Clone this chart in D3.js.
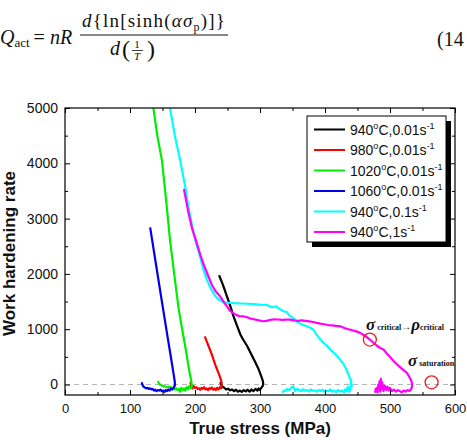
<!DOCTYPE html>
<html>
<head>
<meta charset="utf-8">
<script src="https://cdn.jsdelivr.net/npm/d3@7"></script>
<style>
    body { margin: 0; background: #fff; }
    svg { display: block; }
</style>
</head>
<body>
<svg id="chart" width="467" height="440"></svg>
<script>
    // legend labels and line colours, same order as the series below
    const seriesLabels = [
        ["940", "0.01"], ["980", "0.01"], ["1020", "0.01"],
        ["1060", "0.01"], ["940", "0.1"], ["940", "1"]
    ];
    const seriesColors = ["#000000", "#ff0000", "#00ee00", "#0000ee", "#00ffff", "#ff00ff"];

    // [true stress (MPa), work hardening rate]
    const black940 = [[237,1975],[243,1800],[249,1600],[254,1430],[259,1240],[265,1050],[270,900],[274,813],
        [280,700],[286,560],[292,420],[297,300],[301,180],[304,80],[305,20],[304,-30],[302,-60],[300,-100],
        [298,-70],[296,-110],[293,-80],[290,-120],[287,-90],[284,-130],[281,-95],[278,-125],[275,-100],
        [272,-135],[269,-110],[266,-130],[263,-95],[260,-120],[257,-90],[254,-105],[251,-75],[248,-90],
        [245,-60],[242,-40],[240,0],[239,45]];
    const red980 = [[215,870],[218,780],[222,660],[226,540],[229,430],[232,330],[235,240],[238,150],[240,80],
        [241,30],[241,-20],[240,-70],[238,-50],[236,-90],[234,-60],[232,-100],[230,-70],[228,-95],[226,-55],
        [224,-85],[222,-65],[220,-100],[218,-70],[216,-90],[214,-50],[212,-80],[210,-60],[208,-95],[206,-70],
        [204,-80],[202,-50],[200,-60],[198,-30],[196,-70],[194,-20],[193,50]];
    const green1020 = [[136,5000],[142,4500],[149,4065],[155,3400],[161.5,2620],[168,2000],[175,1355],[181,950],
        [186,620],[189,400],[192,200],[194,80],[195,0],[195,-40],[193,-70],[191,-30],[189,-90],[187,-50],
        [185,-110],[183,-70],[181,-100],[179,-60],[177,-130],[175,-80],[173,-100],[171,-70],[169,-90],
        [167,-50],[165,-80],[163,-60],[161,-40],[158,-50],[155,-40],[152,-30],[149,-20],[146,0],[144,30],[143,60]];
    const blue1060 = [[131,2840],[140,2170],[150,1430],[157,920],[162,560],[166,270],[168,120],[169,40],
        [169,-20],[167,-60],[165,-90],[163,-70],[161,-110],[159,-90],[157,-120],[155,-100],[153,-135],
        [151,-110],[149,-120],[147,-95],[145,-110],[143,-100],[141,-120],[139,-95],[137,-110],[135,-80],
        [133,-90],[131,-70],[129,-80],[127,-60],[125,-70],[122,-50],[120,-30],[119,0],[118,40]];
    const cyan940 = [[161.5,5000],[169,4500],[177,4065],[184.6,3600],[190,3200],[196,2850],[202,2550],[208,2300],
        [213,2080],[218,1900],[224,1740],[230,1620],[236,1540],[243,1490],[250,1480],[260,1470],[270,1465],
        [280,1460],[290,1455],[300,1445],[310,1440],[318,1400],[325,1410],[331,1360],[336,1325],[341,1310],
        [346,1240],[351,1200],[356,1144],[362,1100],[368,1070],[375,1040],[382,994],[387,900],[392,830],
        [397,760],[403,700],[408,632],[413,580],[418,520],[423,452],[428,380],[433,271],[437,150],[440,60],
        [441,0],[441,-40],[440,80],[439,-90],[437,-130],[435,-40],[433,-120],[431,-90],[429,-140],[426,-110],
        [423,-130],[420,-100],[417,-140],[414,-110],[411,-130],[408,-90],[405,-120],[402,-110],[399,-130],
        [396,-95],[393,-120],[390,-100],[387,-130],[384,-105],[381,-115],[378,-90],[375,-125],[372,-100],
        [369,-110],[366,-85],[363,-120],[360,-100],[357,-80],[354,-115],[351,-30],[348,-60],[345,-100],
        [342,-80],[339,-110],[336,-120],[334,-150]];
    const magenta940 = [[183,3535],[190,3100],[196,2800],[202.6,2560],[208,2350],[214,2150],[220.5,1957],
        [226,1800],[232,1680],[238.5,1595],[245,1480],[250,1400],[254,1330],[260,1280],[265,1250],[269,1234],
        [274,1234],[280,1215],[286,1190],[292,1175],[298,1160],[305,1144],[310,1150],[316,1170],[322,1180],
        [328,1175],[334,1170],[341,1174],[346,1174],[352,1160],[358,1150],[364,1160],[370,1150],[376,1140],
        [382,1130],[387,1114],[393,1100],[399,1090],[405,1075],[411,1070],[417,1060],[423,1054],[430,1020],
        [436,1000],[442,980],[448,960],[454,934],[460,890],[465,850],[469,813],[475,750],[480,700],[485,660],
        [490,632],[495,560],[500,500],[505,430],[510,370],[515,320],[520,270],[526,211],[530,130],[533,60],
        [534,0],[534,-40],[532,-90],[530,-120],[527,-100],[524,-130],[521,-110],[518,-140],[515,-120],
        [512,-100],[509,-130],[506,-90],[503,-120],[500,-60],[498,-110],[496,-40],[494,-100],[492,-20],
        [490,-120],[488,40],[487,-80],[486,100],[485,-130],[484,60],[483,-90],[482,0],[481,-140],[480,-60],
        [479,-120],[478,-80],[477,-150]];
    const allSeries = [black940, red980, green1020, blue1060, cyan940, magenta940];

    // axis ticks
    const xTicks = [0, 100, 200, 300, 400, 500, 600];
    const xMinorTicks = [50, 150, 250, 350, 450, 550];
    const yTicks = [0, 1000, 2000, 3000, 4000, 5000];
    const yMinorTicks = [500, 1500, 2500, 3500, 4500];

    // red circles on the 940°C,1s-1 curve
    const markPoints = [[469, 813], [564, 40]];

    const svg = d3.select('#chart');
    const sans = 'Liberation Sans, Arial, sans-serif';
    const serif = 'Liberation Serif, Times New Roman, serif';

    // plot box
    const plotL = 65, plotR = 455, plotT = 108, plotB = 395;
    const x = d3.scaleLinear().domain([0, 600]).range([plotL, plotR]);
    const y = d3.scaleLinear().domain([-190, 5000]).range([plotB, plotT]);

    // ---- equation above the chart (cropped from the paper) ----
    const eq = svg.append('g').attr('font-family', serif).attr('fill', '#111');
    const q = eq.append('text').attr('x', 0).attr('y', 44).attr('font-size', 20);
    q.append('tspan').attr('font-style', 'italic').text('Q');
    q.append('tspan').attr('font-size', 13).attr('dy', 3).text('act');
    q.append('tspan').attr('dy', -3).attr('dx', 4).text('=');
    q.append('tspan').attr('dx', 5).attr('font-style', 'italic').text('nR');

    const num = eq.append('text').attr('x', 82).attr('y', 27).attr('font-size', 19)
        .attr('letter-spacing', 1.2);
    num.append('tspan').attr('font-style', 'italic').text('d');
    num.append('tspan').text('{ln[sinh(');
    num.append('tspan').attr('font-style', 'italic').text('ασ');
    num.append('tspan').attr('font-size', 12).attr('dy', 4).text('p');
    num.append('tspan').attr('dy', -4).text(')]}');
    eq.append('line').attr('x1', 80).attr('x2', 228).attr('y1', 35).attr('y2', 35)
        .attr('stroke', '#111').attr('stroke-width', 1);
    eq.append('text').attr('x', 110).attr('y', 55).attr('font-size', 20)
        .attr('font-style', 'italic').text('d');
    eq.append('text').attr('x', 122).attr('y', 57).attr('font-size', 24).text('(');
    eq.append('text').attr('x', 137).attr('y', 48).attr('font-size', 11).attr('text-anchor', 'middle').text('1');
    eq.append('line').attr('x1', 132).attr('x2', 143).attr('y1', 50.5).attr('y2', 50.5)
        .attr('stroke', '#111').attr('stroke-width', 0.8);
    eq.append('text').attr('x', 137).attr('y', 60).attr('font-size', 11).attr('font-style', 'italic')
        .attr('text-anchor', 'middle').text('T');
    eq.append('text').attr('x', 147).attr('y', 57).attr('font-size', 24).text(')');
    eq.append('text').attr('x', 437).attr('y', 46).attr('font-size', 20).text('(14');

    // ---- zero reference line ----
    svg.append('line')
        .attr('x1', plotL).attr('x2', plotR)
        .attr('y1', y(0)).attr('y2', y(0))
        .attr('stroke', '#b4b4b4').attr('stroke-width', 1).attr('stroke-dasharray', '5,4');

    // ---- curves ----
    svg.append('clipPath').attr('id', 'plotClip')
        .append('rect').attr('x', plotL).attr('y', plotT).attr('width', plotR - plotL).attr('height', plotB - plotT);

    const line = d3.line().x(d => x(d[0])).y(d => y(d[1]));
    svg.append('g').attr('clip-path', 'url(#plotClip)')
        .selectAll('path')
        .data(allSeries)
        .join('path')
        .attr('d', line)
        .attr('fill', 'none')
        .attr('stroke', (d, i) => seriesColors[i])
        .attr('stroke-width', 2.2)
        .attr('stroke-linejoin', 'round');

    // ---- axes (ticks point inward) ----
    function styleAxis(g) {
        g.select('.domain').remove();
        g.selectAll('.tick line').attr('stroke', '#000');
        g.selectAll('.tick text').attr('fill', '#111').attr('font-family', sans);
    }

    svg.append('g').attr('transform', `translate(0,${plotB})`)
        .call(d3.axisBottom(x).tickValues(xTicks).tickSize(-5).tickPadding(9).tickFormat(d3.format('d')))
        .call(styleAxis).selectAll('text').attr('font-size', 13);
    svg.append('g').attr('transform', `translate(0,${plotB})`)
        .call(d3.axisBottom(x).tickValues(xMinorTicks).tickSize(-3).tickFormat(''))
        .call(styleAxis);
    svg.append('g').attr('transform', `translate(0,${plotT})`)
        .call(d3.axisTop(x).tickValues(xTicks).tickSize(-5).tickFormat(''))
        .call(styleAxis);
    svg.append('g').attr('transform', `translate(0,${plotT})`)
        .call(d3.axisTop(x).tickValues(xMinorTicks).tickSize(-3).tickFormat(''))
        .call(styleAxis);

    svg.append('g').attr('transform', `translate(${plotL},0)`)
        .call(d3.axisLeft(y).tickValues(yTicks).tickSize(-5).tickPadding(7).tickFormat(d3.format('d')))
        .call(styleAxis).selectAll('text').attr('font-size', 14);
    svg.append('g').attr('transform', `translate(${plotL},0)`)
        .call(d3.axisLeft(y).tickValues(yMinorTicks).tickSize(-3).tickFormat(''))
        .call(styleAxis);
    svg.append('g').attr('transform', `translate(${plotR},0)`)
        .call(d3.axisRight(y).tickValues(yTicks).tickSize(-5).tickFormat(''))
        .call(styleAxis);
    svg.append('g').attr('transform', `translate(${plotR},0)`)
        .call(d3.axisRight(y).tickValues(yMinorTicks).tickSize(-3).tickFormat(''))
        .call(styleAxis);

    // frame
    svg.append('rect')
        .attr('x', plotL).attr('y', plotT)
        .attr('width', plotR - plotL).attr('height', plotB - plotT)
        .attr('fill', 'none').attr('stroke', '#000').attr('stroke-width', 1.2);

    // axis titles
    svg.append('text')
        .attr('x', (plotL + plotR) / 2).attr('y', 434)
        .attr('text-anchor', 'middle')
        .attr('font-family', sans).attr('font-weight', 'bold').attr('font-size', 17)
        .attr('fill', '#111')
        .text('True stress (MPa)');
    svg.append('text')
        .attr('transform', `translate(15,${(plotT + plotB) / 2 + 2}) rotate(-90)`)
        .attr('text-anchor', 'middle')
        .attr('font-family', sans).attr('font-weight', 'bold').attr('font-size', 17)
        .attr('fill', '#111')
        .text('Work hardening rate');

    // ---- circles and annotations ----
    svg.append('g').selectAll('circle')
        .data(markPoints)
        .join('circle')
        .attr('cx', d => x(d[0])).attr('cy', d => y(d[1]))
        .attr('r', 6.5)
        .attr('fill', 'none').attr('stroke', '#ee1c1c').attr('stroke-width', 1.3);

    const crit = svg.append('text').attr('x', 366).attr('y', 330)
        .attr('font-family', serif).attr('font-weight', 'bold').attr('fill', '#111');
    crit.append('tspan').attr('font-size', 17).attr('font-style', 'italic').text('σ');
    crit.append('tspan').attr('font-size', 8).attr('dx', 2).text('critical');
    crit.append('tspan').attr('font-size', 10).text('→');
    crit.append('tspan').attr('font-size', 17).attr('font-style', 'italic').text('ρ');
    crit.append('tspan').attr('font-size', 8).text('critical');

    const sat = svg.append('text').attr('x', 408).attr('y', 366)
        .attr('font-family', serif).attr('font-weight', 'bold').attr('fill', '#111');
    sat.append('tspan').attr('font-size', 17).attr('font-style', 'italic').text('σ');
    sat.append('tspan').attr('font-size', 8).attr('dx', 2).text('saturation');

    // ---- legend with drop shadow ----
    const lg = { x: 307, y: 116, w: 139, h: 126 };
    svg.append('rect').attr('x', lg.x + 5).attr('y', lg.y + 5).attr('width', lg.w).attr('height', lg.h)
        .attr('fill', '#000');
    svg.append('rect').attr('x', lg.x).attr('y', lg.y).attr('width', lg.w).attr('height', lg.h)
        .attr('fill', '#fff').attr('stroke', '#000').attr('stroke-width', 1);

    const rows = svg.append('g').selectAll('g')
        .data(seriesLabels)
        .join('g')
        .attr('transform', (d, i) => `translate(0,${129.5 + i * 20.5})`);
    rows.append('line')
        .attr('x1', 314).attr('x2', 345)
        .attr('stroke', (d, i) => seriesColors[i]).attr('stroke-width', 2);
    const lt = rows.append('text')
        .attr('x', 350).attr('y', 5)
        .attr('font-family', sans).attr('font-size', 14).attr('fill', '#111');
    lt.append('tspan').text(d => d[0]);
    lt.append('tspan').attr('font-size', 9).attr('dy', -6).text('o');
    lt.append('tspan').attr('dy', 6).text(d => `C,${d[1]}s`);
    lt.append('tspan').attr('font-size', 9).attr('dy', -6).text('-1');
</script>
</body>
</html>
